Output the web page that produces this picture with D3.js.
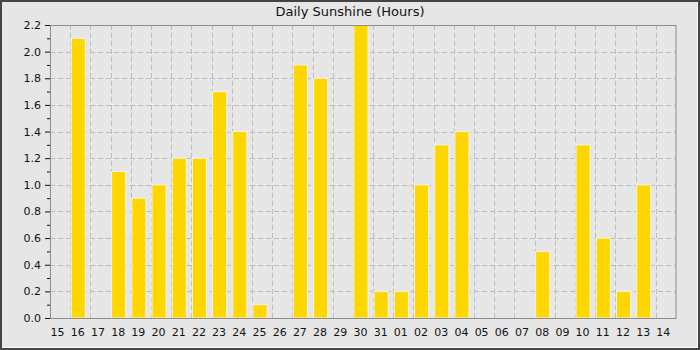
<!DOCTYPE html>
<meta charset="utf-8">
<script src="https://d3js.org/d3.v7.min.js"></script>
<style>
  body { margin: 0; background: #e6e6e6; }
  text { font-family: "DejaVu Sans", sans-serif; fill: #111; }
</style>
<body>
<svg id="vis" width="700" height="350"></svg>
<script>
// day labels and sunshine hours
var days = ["15","16","17","18","19","20","21","22","23","24","25","26","27","28","29","30","31",
            "01","02","03","04","05","06","07","08","09","10","11","12","13","14"];
var hours = [0, 2.1, 0, 1.1, 0.9, 1.0, 1.2, 1.2, 1.7, 1.4, 0.1, 0, 1.9, 1.8, 0, 2.2, 0.2,
             0.2, 1.0, 1.3, 1.4, 0, 0, 0, 0.5, 0, 1.3, 0.6, 0.2, 1.0, 0];
var yTicks = [0, 0.2, 0.4, 0.6, 0.8, 1.0, 1.2, 1.4, 1.6, 1.8, 2.0, 2.2];
var yMinor = [0.1, 0.3, 0.5, 0.7, 0.9, 1.1, 1.3, 1.5, 1.7, 1.9, 2.1];

var W = 700, H = 350;
var margin = {top: 25, right: 24, bottom: 32, left: 50},
    width = W - margin.left - margin.right,
    height = H - margin.top - margin.bottom;

var svg = d3.select("#vis");

// outer frame
svg.append("rect").attr("width", W).attr("height", H).attr("fill", "#e6e6e6");
svg.append("rect").attr("x", 1).attr("y", 1).attr("width", W - 2).attr("height", H - 2)
  .attr("fill", "none").attr("stroke", "#444").attr("stroke-width", 2);
svg.append("path").attr("d", "M2.5,347.5H697.5V2")
  .attr("fill", "none").attr("stroke", "#fff").attr("stroke-width", 1);

svg.append("text")
  .attr("x", W / 2).attr("y", 16)
  .attr("text-anchor", "middle")
  .attr("font-size", "13px")
  .text("Daily Sunshine (Hours)");

var g = svg.append("g").attr("transform", "translate(" + margin.left + "," + margin.top + ")");

var x = d3.scaleBand().domain(days).range([0, width]).padding(0);
var y = d3.scaleLinear().domain([0, 2.2]).range([height, 0]);
var bw = x.bandwidth();

// grid
g.append("g").selectAll("line").data(yTicks.slice(1, -1)).enter().append("line")
  .attr("x1", 0).attr("x2", width)
  .attr("y1", function(d) { return Math.round(y(d)) + 0.5; })
  .attr("y2", function(d) { return Math.round(y(d)) + 0.5; })
  .attr("stroke", "#bdbdbd").attr("stroke-dasharray", "5,3");
g.append("g").selectAll("line").data(days.slice(1)).enter().append("line")
  .attr("x1", function(d) { return Math.round(x(d)) + 0.5; })
  .attr("x2", function(d) { return Math.round(x(d)) + 0.5; })
  .attr("y1", 0).attr("y2", height)
  .attr("stroke", "#bdbdbd").attr("stroke-dasharray", "5,3");

// bars
g.append("g").selectAll("rect").data(hours).enter().append("rect")
  .attr("x", function(d, i) { return x(days[i]) + 1; })
  .attr("width", bw * 0.7)
  .attr("y", function(d) { return y(d); })
  .attr("height", function(d) { return height - y(d); })
  .attr("fill", "#ffd700")
  .attr("stroke", function(d) { return d > 0 ? "#f4f4ee" : "none"; })
  .attr("stroke-width", 1);

// plot border
g.append("rect").attr("x", 0.5).attr("y", 0.5).attr("width", width - 0.5).attr("height", height)
  .attr("fill", "none").attr("stroke", "#8c8c8c");

// y axis
var yAxis = g.append("g")
  .call(d3.axisLeft(y).tickValues(yTicks).tickFormat(d3.format(".1f")).tickSize(5).tickPadding(4));
yAxis.select(".domain").remove();
yAxis.selectAll("line").attr("stroke", "#111");
yAxis.selectAll("text").attr("font-size", "11px").attr("font-family", "DejaVu Sans").attr("fill", "#111");
g.append("g").call(d3.axisLeft(y).tickValues(yMinor).tickFormat("").tickSize(3))
  .call(function(s) { s.select(".domain").remove(); s.selectAll("line").attr("stroke", "#111"); });

// x labels
g.append("g").selectAll("text").data(days).enter().append("text")
  .attr("x", function(d) { return x(d) + bw * 0.35 + 0.5; })
  .attr("y", height + 18)
  .attr("text-anchor", "middle")
  .attr("font-size", "11px")
  .text(function(d) { return d; });
</script>
</body>
